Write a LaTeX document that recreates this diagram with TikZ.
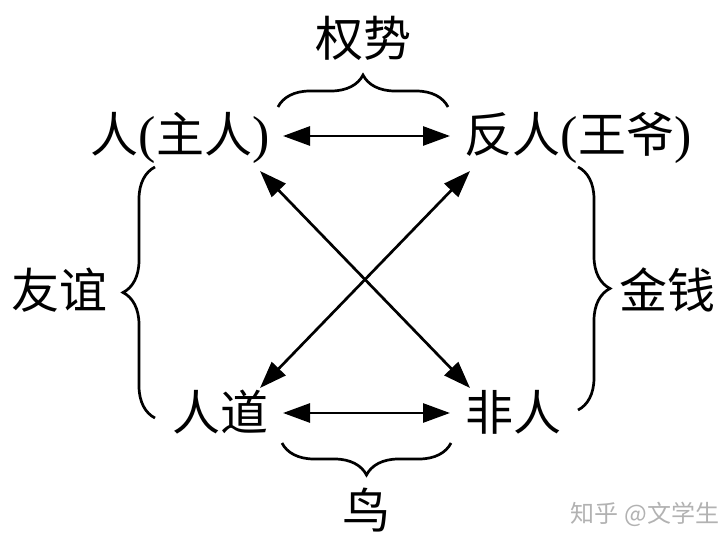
\documentclass[tikz,border=0pt]{standalone}
\usepackage{fontspec}
\setmainfont{Liberation Serif}
\newfontfamily\cjk{Noto Sans CJK SC}
\usetikzlibrary{arrows.meta,decorations.pathreplacing,calc}
\newcommand{\prn}[1]{{\rmfamily\fontsize{52}{56}\selectfont #1}}
\tikzset{
  lbl/.style={inner sep=0pt, font=\fontsize{48}{56}\selectfont\cjk},
  wmark/.style={inner sep=0pt, text=black!30, font=\fontsize{24}{28}\selectfont\cjk},
  dblarrow/.style={line width=2.7pt, {Triangle[length=27pt,width=19pt]}-{Triangle[length=27pt,width=19pt]}},
  bracedeco/.style={line width=2.7pt, decorate, decoration={brace, amplitude=32pt}}
}
\begin{document}
\begin{tikzpicture}[x=1pt,y=1pt]
\useasboundingbox (0,0) rectangle (728,544);
\node[lbl] (power) at (363,506) {权势};
\node[lbl] (tl) at (180,406) {人\prn{(}主人\prn{)}};
\node[lbl] (tr) at (578,406) {反人\prn{(}王爷\prn{)}};
\node[lbl] (friend) at (60,254) {友谊};
\node[lbl] (money) at (667,254) {金钱};
\node[lbl] (bl) at (220,132) {人道};
\node[lbl] (br) at (513,132) {非人};
\node[lbl] (bird) at (366,34) {鸟};
\node[wmark] (wm) at (645,30) {知乎 @文学生};
% horizontal arrows
\draw[dblarrow] ($(tl.center)+(103,2)$) -- ($(tr.center)+(-128,2)$);
\draw[dblarrow] ($(bl.center)+(63,-1)$) -- ($(br.center)+(-63,-1)$);
% diagonal arrows
\draw[dblarrow] ($(tl.center)+(80,-33)$) -- ($(br.center)+(-43,24)$);
\draw[dblarrow] ($(tr.center)+(-108,-33)$) -- ($(bl.center)+(40,24)$);
% braces
\coordinate (tbA) at (278,437);
\coordinate (tbB) at (448,437);
\draw[bracedeco] (tbA) -- (tbB);
\coordinate (bbA) at (451,101);
\coordinate (bbB) at (282,101);
\draw[bracedeco] (bbA) -- (bbB);
\coordinate (lbA) at (155,126);
\coordinate (lbB) at (155,377);
\draw[bracedeco] (lbA) -- (lbB);
\coordinate (rbA) at (578,377);
\coordinate (rbB) at (578,134);
\draw[bracedeco] (rbA) -- (rbB);
\end{tikzpicture}
\end{document}
